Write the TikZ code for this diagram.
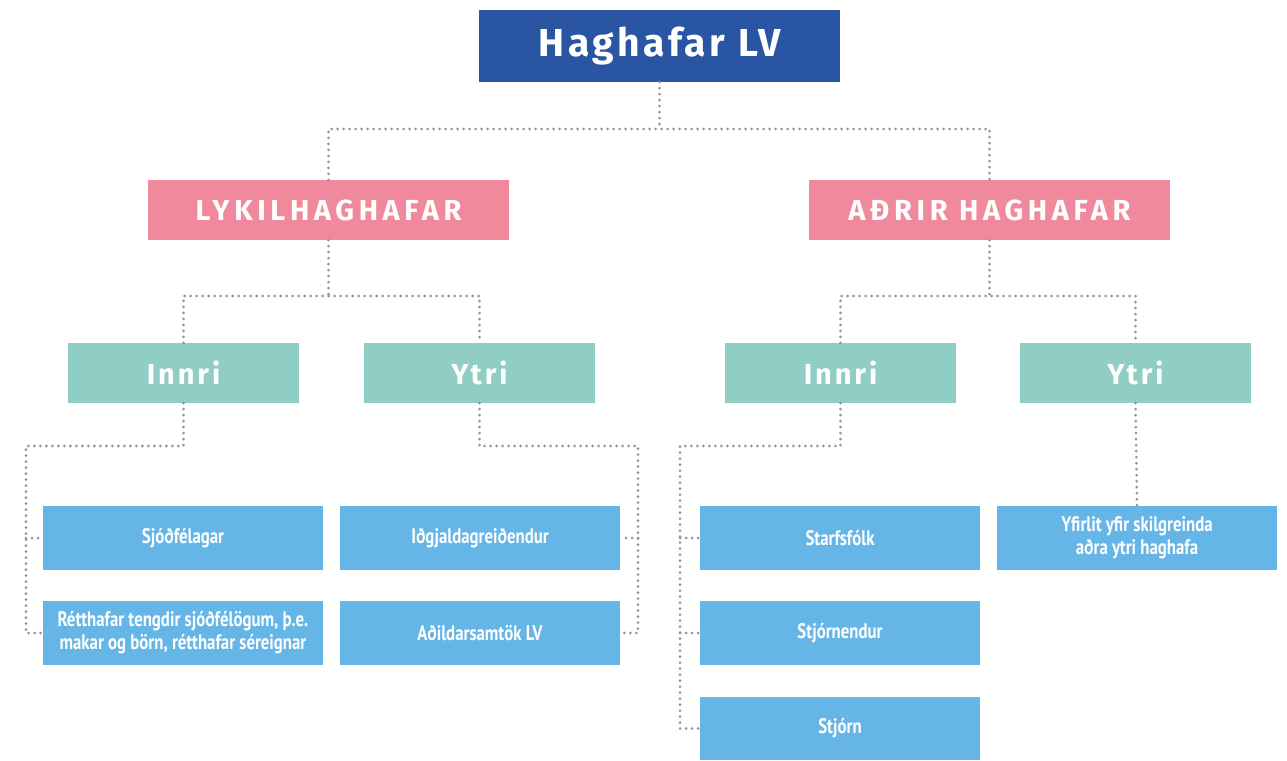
\documentclass[tikz,border=0pt]{standalone}
\usepackage{fontspec}
\usepackage{tikz}
\newfontfamily\topfont[LetterSpace=9]{Fira Sans}
\newfontfamily\groupfont[LetterSpace=16]{Fira Sans}
\newfontfamily\sidefont[LetterSpace=10]{Fira Sans}
\newfontfamily\boxfont[FakeStretch=0.8]{PT Sans}
\definecolor{cnavy}{rgb}{0.165, 0.333, 0.639}
\definecolor{cpink}{rgb}{0.941, 0.537, 0.608}
\definecolor{cteal}{rgb}{0.561, 0.804, 0.773}
\definecolor{cblue}{rgb}{0.396, 0.714, 0.902}
\definecolor{cgrey}{rgb}{0.58, 0.58, 0.58}

\begin{document}
\begin{tikzpicture}[x=1pt, y=-1pt,
  topbox/.style={fill=cnavy, text=white, minimum width=361, minimum height=72, inner sep=0,
    font=\topfont\bfseries\fontsize{39}{42}\selectfont},
  groupbox/.style={fill=cpink, text=white, minimum width=361, minimum height=60, inner sep=0,
    font=\groupfont\bfseries\fontsize{29}{32}\selectfont},
  sidebox/.style={fill=cteal, text=white, minimum width=231, minimum height=60, inner sep=0,
    font=\sidefont\bfseries\fontsize{29}{32}\selectfont},
  itembox/.style={fill=cblue, text=white, minimum width=280, minimum height=64, inner sep=0,
    align=center, font=\boxfont\bfseries\fontsize{21}{23}\selectfont},
  dotline/.style={cgrey, line width=3, line cap=round, dash pattern=on 0pt off 6pt}]

  \useasboundingbox (0, 0) rectangle (1287, 760);

  % top and the two groups
  \node [topbox] (top) at (659.5, 46) {Haghafar LV};
  \node [groupbox] (lyk) at (328.5, 210) {LYKILHAGHAFAR};
  \node [groupbox] (adr) at (989.5, 210) {AÐRIR HAGHAFAR};

  % inner / outer
  \node [sidebox] (inn1) at (183.5, 373) {Innri};
  \node [sidebox] (ytr1) at (479.5, 373) {Ytri};
  \node [sidebox] (inn2) at (840.5, 373) {Innri};
  \node [sidebox] (ytr2) at (1135.5, 373) {Ytri};

  % items
  \node [itembox] (sjo) at (183, 538) {Sjóðfélagar};
  \node [itembox] (ret) at (183, 633) {Rétthafar tengdir sjóðfélögum, þ.e.\\makar og börn, rétthafar séreignar};
  \node [itembox] (idg) at (480, 538) {Iðgjaldagreiðendur};
  \node [itembox] (adi) at (480, 633) {Aðildarsamtök LV};
  \node [itembox] (sta) at (840, 538) {Starfsfólk};
  \node [itembox] (stn) at (840, 633) {Stjórnendur};
  \node [itembox, minimum height=63] (stj) at (840, 728.5) {Stjórn};
  \node [itembox] (yfi) at (1137, 538) {Yfirlit yfir skilgreinda\\aðra ytri haghafa};

  % connectors
  \coordinate (j0) at (659.5, 129);
  \coordinate (j1) at (26, 446);
  \coordinate (j2) at (638, 446);
  \coordinate (j3) at (680, 446);

  \draw [dotline] (top.south) -- (j0);
  \draw [dotline] (lyk.north) |- (j0) -| (adr.north);

  \draw [dotline] (inn1.north) |- (lyk.south |- 0, 296) -| (ytr1.north);
  \draw [dotline] (lyk.south) -- (lyk.south |- 0, 296);
  \draw [dotline] (inn2.north) |- (adr.south |- 0, 296) -| (ytr2.north);
  \draw [dotline] (adr.south) -- (adr.south |- 0, 296);

  \draw [dotline] (inn1.south) |- (j1) |- (ret.west);
  \draw [dotline] (j1 |- sjo.west) -- (sjo.west);

  \draw [dotline] (ytr1.south) |- (j2) |- (adi.east);
  \draw [dotline] (j2 |- idg.east) -- (idg.east);

  \draw [dotline] (inn2.south) |- (j3) |- (stj.west);
  \draw [dotline] (j3 |- sta.west) -- (sta.west);
  \draw [dotline] (j3 |- stn.west) -- (stn.west);

  \draw [dotline] (ytr2.south) -- (yfi.north);

\end{tikzpicture}
\end{document}
